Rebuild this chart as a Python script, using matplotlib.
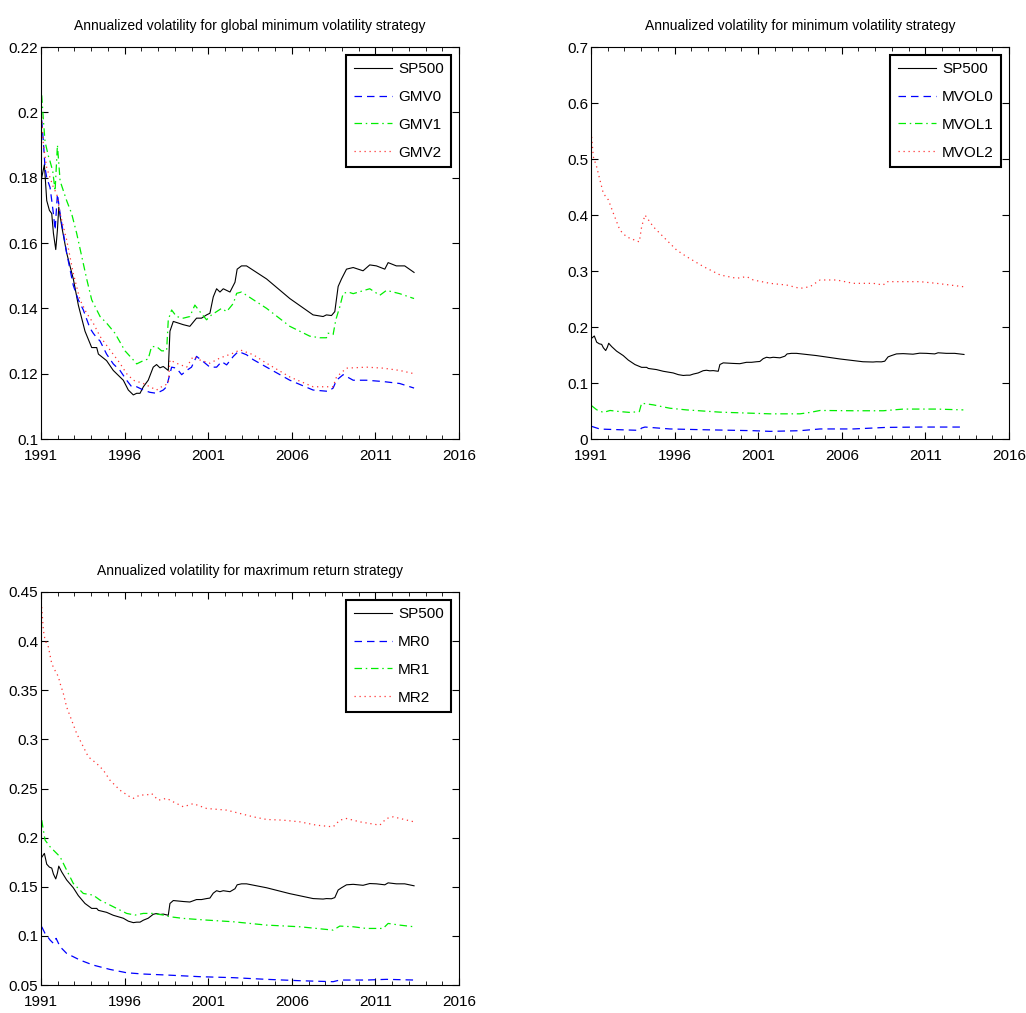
import numpy as np
import matplotlib
matplotlib.use('Agg')
import matplotlib.pyplot as plt
from matplotlib.ticker import MultipleLocator

plt.rcParams['font.family'] = ['Liberation Sans', 'DejaVu Sans']

# S&P 500 annualized volatility (shared by all panels)
sp_t = [1991.04, 1991.2, 1991.34, 1991.5, 1991.64, 1991.74, 1991.88, 1991.98, 1992.06, 1992.24,
        1992.53, 1992.93, 1993.23, 1993.63, 1994.03, 1994.33, 1994.43, 1994.92, 1995.32, 1995.92,
        1996.22, 1996.52, 1996.72, 1996.92, 1997.12, 1997.41, 1997.71, 1997.91, 1998.11, 1998.31,
        1998.61, 1998.71, 1998.91, 1999.51, 1999.9, 2000.3, 2000.6, 2000.9, 2001.1, 2001.3,
        2001.5, 2001.7, 2001.9, 2002.3, 2002.6, 2002.73, 2002.99, 2003.29, 2004.49, 2005.88,
        2007.27, 2007.87, 2008.07, 2008.37, 2008.57, 2008.77, 2008.97, 2009.27, 2009.67, 2010.26,
        2010.66, 2011.06, 2011.56, 2011.76, 2012.25, 2012.75, 2013.31]
sp_v = [0.180, 0.184, 0.173, 0.170, 0.169, 0.163, 0.158, 0.164, 0.171, 0.165,
        0.157, 0.149, 0.141, 0.133, 0.128, 0.128, 0.126, 0.124, 0.121, 0.118,
        0.115, 0.1135, 0.114, 0.114, 0.116, 0.118, 0.122, 0.1228, 0.1218, 0.1222,
        0.121, 0.133, 0.136, 0.135, 0.1345, 0.137, 0.137, 0.138, 0.1385, 0.1435,
        0.146, 0.145, 0.146, 0.145, 0.148, 0.152, 0.153, 0.153, 0.149, 0.143,
        0.138, 0.1375, 0.138, 0.1378, 0.139, 0.1467, 0.149, 0.152, 0.1525, 0.1515,
        0.1533, 0.153, 0.152, 0.154, 0.153, 0.153, 0.151]

# global minimum volatility
gmv0_t = [1991.04, 1991.14, 1991.24, 1991.34, 1991.54, 1991.74, 1991.84, 1991.98, 1992.14, 1992.53,
          1992.93, 1993.23, 1993.53, 1993.92, 1994.12, 1994.33, 1994.53, 1994.92, 1995.32, 1995.72,
          1996.12, 1996.42, 1996.72, 1997.12, 1997.51, 1997.91, 1998.31, 1998.51, 1998.61, 1998.81,
          1999.1, 1999.41, 1999.71, 2000.0, 2000.3, 2000.7, 2001.1, 2001.5, 2001.8, 2002.1,
          2002.5, 2002.8, 2003.29, 2003.69, 2004.49, 2005.88, 2007.27, 2008.17, 2008.47, 2008.67,
          2009.07, 2009.67, 2010.46, 2011.46, 2012.45, 2013.31]
gmv0_v = [0.1976, 0.191, 0.183, 0.180, 0.177, 0.169, 0.164, 0.175, 0.169, 0.157,
          0.147, 0.1426, 0.1395, 0.134, 0.1324, 0.131, 0.130, 0.126, 0.123, 0.121,
          0.118, 0.116, 0.116, 0.115, 0.1143, 0.114, 0.115, 0.116, 0.118, 0.122,
          0.1217, 0.1197, 0.121, 0.122, 0.1253, 0.1237, 0.122, 0.122, 0.1237, 0.1227,
          0.1253, 0.1268, 0.1258, 0.1243, 0.122, 0.118, 0.115, 0.1146, 0.1156, 0.118,
          0.1197, 0.118, 0.118, 0.1176, 0.117, 0.1156]

gmv1_t = [1991.04, 1991.14, 1991.24, 1991.44, 1991.54, 1991.7, 1991.84, 1991.98, 1992.14, 1992.53,
          1992.83, 1993.13, 1993.43, 1993.73, 1994.03, 1994.53, 1994.92, 1995.42, 1996.02, 1996.52,
          1996.72, 1997.12, 1997.41, 1997.61, 1997.91, 1998.21, 1998.51, 1998.61, 1998.81, 1999.1,
          1999.51, 1999.9, 2000.2, 2000.5, 2000.9, 2001.2, 2001.5, 2001.8, 2002.1, 2002.5,
          2002.7, 2002.99, 2003.29, 2004.49, 2005.88, 2007.07, 2007.67, 2008.07, 2008.17, 2008.47,
          2008.63, 2008.87, 2009.07, 2009.37, 2009.67, 2010.66, 2011.26, 2011.66, 2012.45, 2013.31]
gmv1_v = [0.2052, 0.1976, 0.191, 0.1866, 0.185, 0.182, 0.176, 0.190, 0.179, 0.173,
          0.169, 0.163, 0.156, 0.149, 0.1426, 0.1375, 0.1355, 0.1324, 0.127, 0.1242,
          0.123, 0.124, 0.1245, 0.1283, 0.1283, 0.127, 0.127, 0.1365, 0.1395, 0.1375,
          0.137, 0.1375, 0.141, 0.139, 0.1365, 0.138, 0.139, 0.140, 0.139, 0.1415,
          0.1446, 0.145, 0.144, 0.140, 0.1345, 0.1315, 0.131, 0.131, 0.1324, 0.132,
          0.1365, 0.1405, 0.1446, 0.145, 0.1445, 0.146, 0.144, 0.1455, 0.1445, 0.143]

gmv2_t = [1991.04, 1991.14, 1991.34, 1991.54, 1991.74, 1991.94, 1992.14, 1992.53, 1992.93, 1993.33,
          1993.73, 1994.12, 1994.53, 1995.12, 1995.72, 1996.12, 1996.52, 1997.12, 1997.51, 1997.91,
          1998.21, 1998.61, 1998.71, 1999.1, 1999.71, 2000.1, 2000.5, 2001.1, 2001.7, 2002.5,
          2002.9, 2003.69, 2004.49, 2005.88, 2007.27, 2008.47, 2008.67, 2009.27, 2010.46, 2011.46,
          2012.45, 2013.31]
gmv2_v = [0.1986, 0.190, 0.183, 0.180, 0.177, 0.175, 0.169, 0.161, 0.1507, 0.1426,
          0.1385, 0.1355, 0.1314, 0.1273, 0.1232, 0.120, 0.118, 0.117, 0.116, 0.115,
          0.116, 0.117, 0.1242, 0.1232, 0.122, 0.1253, 0.1242, 0.1232, 0.1248, 0.1263,
          0.1273, 0.1258, 0.1232, 0.119, 0.116, 0.116, 0.119, 0.1217, 0.122, 0.1217,
          0.121, 0.120]

# minimum volatility
mvol0_t = [1991.04, 1991.54, 1992.73, 1993.89, 1994.03, 1994.23, 1995.72, 1997.72, 2000.71, 2001.71,
           2003.5, 2004.7, 2006.69, 2008.68, 2010.68, 2013.27]
mvol0_v = [0.0226, 0.0178, 0.0166, 0.0155, 0.0196, 0.0214, 0.018, 0.0166, 0.0149, 0.0137,
           0.0149, 0.018, 0.018, 0.0208, 0.0214, 0.0214]

mvol1_t = [1991.04, 1991.34, 1991.74, 1992.14, 1992.73, 1993.33, 1993.89, 1994.03, 1994.73, 1995.72,
           1996.72, 1998.72, 2000.71, 2001.71, 2003.5, 2004.1, 2004.7, 2006.69, 2008.48, 2009.68,
           2011.67, 2013.27]
mvol1_v = [0.0594, 0.0523, 0.0475, 0.051, 0.049, 0.0475, 0.049, 0.064, 0.061, 0.055,
           0.052, 0.048, 0.046, 0.045, 0.045, 0.0475, 0.051, 0.0505, 0.0505, 0.0535,
           0.0535, 0.052]

mvol2_t = [1991.04, 1991.14, 1991.34, 1991.54, 1991.74, 1992.04, 1992.34, 1992.73, 1993.13, 1993.63,
           1993.89, 1994.03, 1994.23, 1994.73, 1995.33, 1996.12, 1996.72, 1997.72, 1998.72, 1999.71,
           2000.31, 2000.71, 2001.71, 2002.70, 2003.5, 2004.1, 2004.7, 2005.69, 2006.69, 2007.89,
           2008.48, 2008.68, 2010.68, 2011.67, 2013.27]
mvol2_v = [0.5395, 0.504, 0.486, 0.462, 0.4385, 0.427, 0.403, 0.373, 0.361, 0.355,
           0.352, 0.379, 0.400, 0.379, 0.361, 0.3375, 0.3256, 0.308, 0.293, 0.287,
           0.290, 0.284, 0.278, 0.275, 0.269, 0.272, 0.284, 0.284, 0.278, 0.278,
           0.275, 0.281, 0.281, 0.278, 0.272]

# maximum return
mr0_t = [1991.04, 1991.24, 1991.54, 1991.74, 1991.9, 1992.14, 1992.53, 1993.33, 1994.12, 1995.12,
         1996.12, 1997.12, 1998.51, 2000.5, 2002.5, 2004.49, 2006.48, 2008.47, 2008.87, 2010.46,
         2011.66, 2013.31]
mr0_v = [0.1093, 0.1025, 0.0958, 0.0924, 0.0975, 0.089, 0.0822, 0.0754, 0.0703, 0.0659,
         0.0625, 0.0612, 0.0602, 0.0585, 0.0575, 0.0558, 0.0544, 0.0534, 0.0551, 0.0551,
         0.0558, 0.0551]

mr1_t = [1991.04, 1991.24, 1991.54, 1991.84, 1992.14, 1992.53, 1992.93, 1993.53, 1994.12, 1994.53,
         1995.32, 1996.12, 1996.62, 1997.12, 1997.71, 1998.31, 1998.71, 1999.51, 2000.9, 2002.5,
         2004.49, 2006.48, 2008.47, 2008.87, 2009.67, 2010.46, 2011.46, 2011.76, 2012.45, 2013.31]
mr1_v = [0.2178, 0.1975, 0.1907, 0.1856, 0.1805, 0.167, 0.1534, 0.1432, 0.1415, 0.1364,
         0.1297, 0.1229, 0.1212, 0.1229, 0.1229, 0.1212, 0.1195, 0.1178, 0.1161, 0.1144,
         0.111, 0.1093, 0.1059, 0.110, 0.1093, 0.1076, 0.1076, 0.1127, 0.111, 0.1093]

mr2_t = [1991.04, 1991.14, 1991.24, 1991.44, 1991.64, 1991.84, 1991.94, 1992.04, 1992.14, 1992.33,
         1992.53, 1992.83, 1993.13, 1993.53, 1993.83, 1994.33, 1994.73, 1995.12, 1995.72, 1996.32,
         1996.52, 1996.92, 1997.32, 1997.61, 1998.01, 1998.51, 1998.91, 1999.51, 2000.1, 2000.9,
         2002.1, 2002.9, 2003.69, 2004.49, 2005.48, 2006.48, 2007.47, 2008.47, 2008.87, 2009.27,
         2010.06, 2011.26, 2011.66, 2012.06, 2013.31]
mr2_v = [0.4347, 0.411, 0.401, 0.394, 0.377, 0.370, 0.367, 0.3636, 0.357, 0.347,
         0.333, 0.3195, 0.306, 0.2924, 0.2822, 0.2754, 0.2686, 0.2585, 0.2483, 0.2415,
         0.240, 0.2434, 0.2434, 0.245, 0.2381, 0.240, 0.2364, 0.2314, 0.2346, 0.2297,
         0.228, 0.2246, 0.2212, 0.2185, 0.2178, 0.2161, 0.2127, 0.211, 0.2178, 0.2195,
         0.2161, 0.2127, 0.2195, 0.2212, 0.2161]

panels = [
    ('Annualized volatility for global minimum volatility strategy',
     [('GMV0', gmv0_t, gmv0_v), ('GMV1', gmv1_t, gmv1_v), ('GMV2', gmv2_t, gmv2_v)],
     (0.1, 0.22), 0.02, [0.040, 0.5666, 0.4074, 0.387]),
    ('Annualized volatility for minimum volatility strategy',
     [('MVOL0', mvol0_t, mvol0_v), ('MVOL1', mvol1_t, mvol1_v), ('MVOL2', mvol2_t, mvol2_v)],
     (0, 0.7), 0.1, [0.576, 0.5666, 0.4074, 0.387]),
    ('Annualized volatility for maxrimum return strategy',
     [('MR0', mr0_t, mr0_v), ('MR1', mr1_t, mr1_v), ('MR2', mr2_t, mr2_v)],
     (0.05, 0.45), 0.05, [0.040, 0.0276, 0.4074, 0.388]),
]
styles = [('#0000ff', (0, (6, 4))), ('#00ee00', (0, (6, 3, 1.2, 3))), ('#ff3333', (0, (1, 3)))]

fig = plt.figure(figsize=(10.26, 10.13), dpi=100)
for title, series, ylim, ystep, pos in panels:
    ax = fig.add_axes(pos)
    ax.plot(sp_t, sp_v, color='black', lw=0.8, label='SP500')
    for (name, t, v), (c, ls) in zip(series, styles):
        ax.plot(t, v, color=c, ls=ls, lw=0.9, label=name)
    ax.set_xlim(1991, 2016)
    ax.set_ylim(*ylim)
    ax.set_xticks([1991, 1996, 2001, 2006, 2011, 2016])
    ax.xaxis.set_minor_locator(MultipleLocator(1))
    ax.yaxis.set_major_locator(MultipleLocator(ystep))
    ax.yaxis.set_major_formatter(plt.FuncFormatter(lambda y, p: ('%.2f' % y).rstrip('0').rstrip('.')))
    ax.tick_params(which='both', direction='in', top=True, right=True, labelsize=11)
    ax.tick_params(axis='x', pad=7)
    ax.tick_params(axis='y', pad=2)
    ax.tick_params(which='major', length=5)
    ax.tick_params(which='minor', length=3)
    ax.set_title(title, fontsize=10, pad=12)
    leg = ax.legend(loc='upper right', fontsize=11, fancybox=False, framealpha=1,
                    edgecolor='black', handlelength=2.5, handletextpad=0.4,
                    borderaxespad=0.5, labelspacing=0.9, borderpad=0.5)
    leg.get_frame().set_linewidth(1.5)

plt.savefig('out.png', dpi=100)
